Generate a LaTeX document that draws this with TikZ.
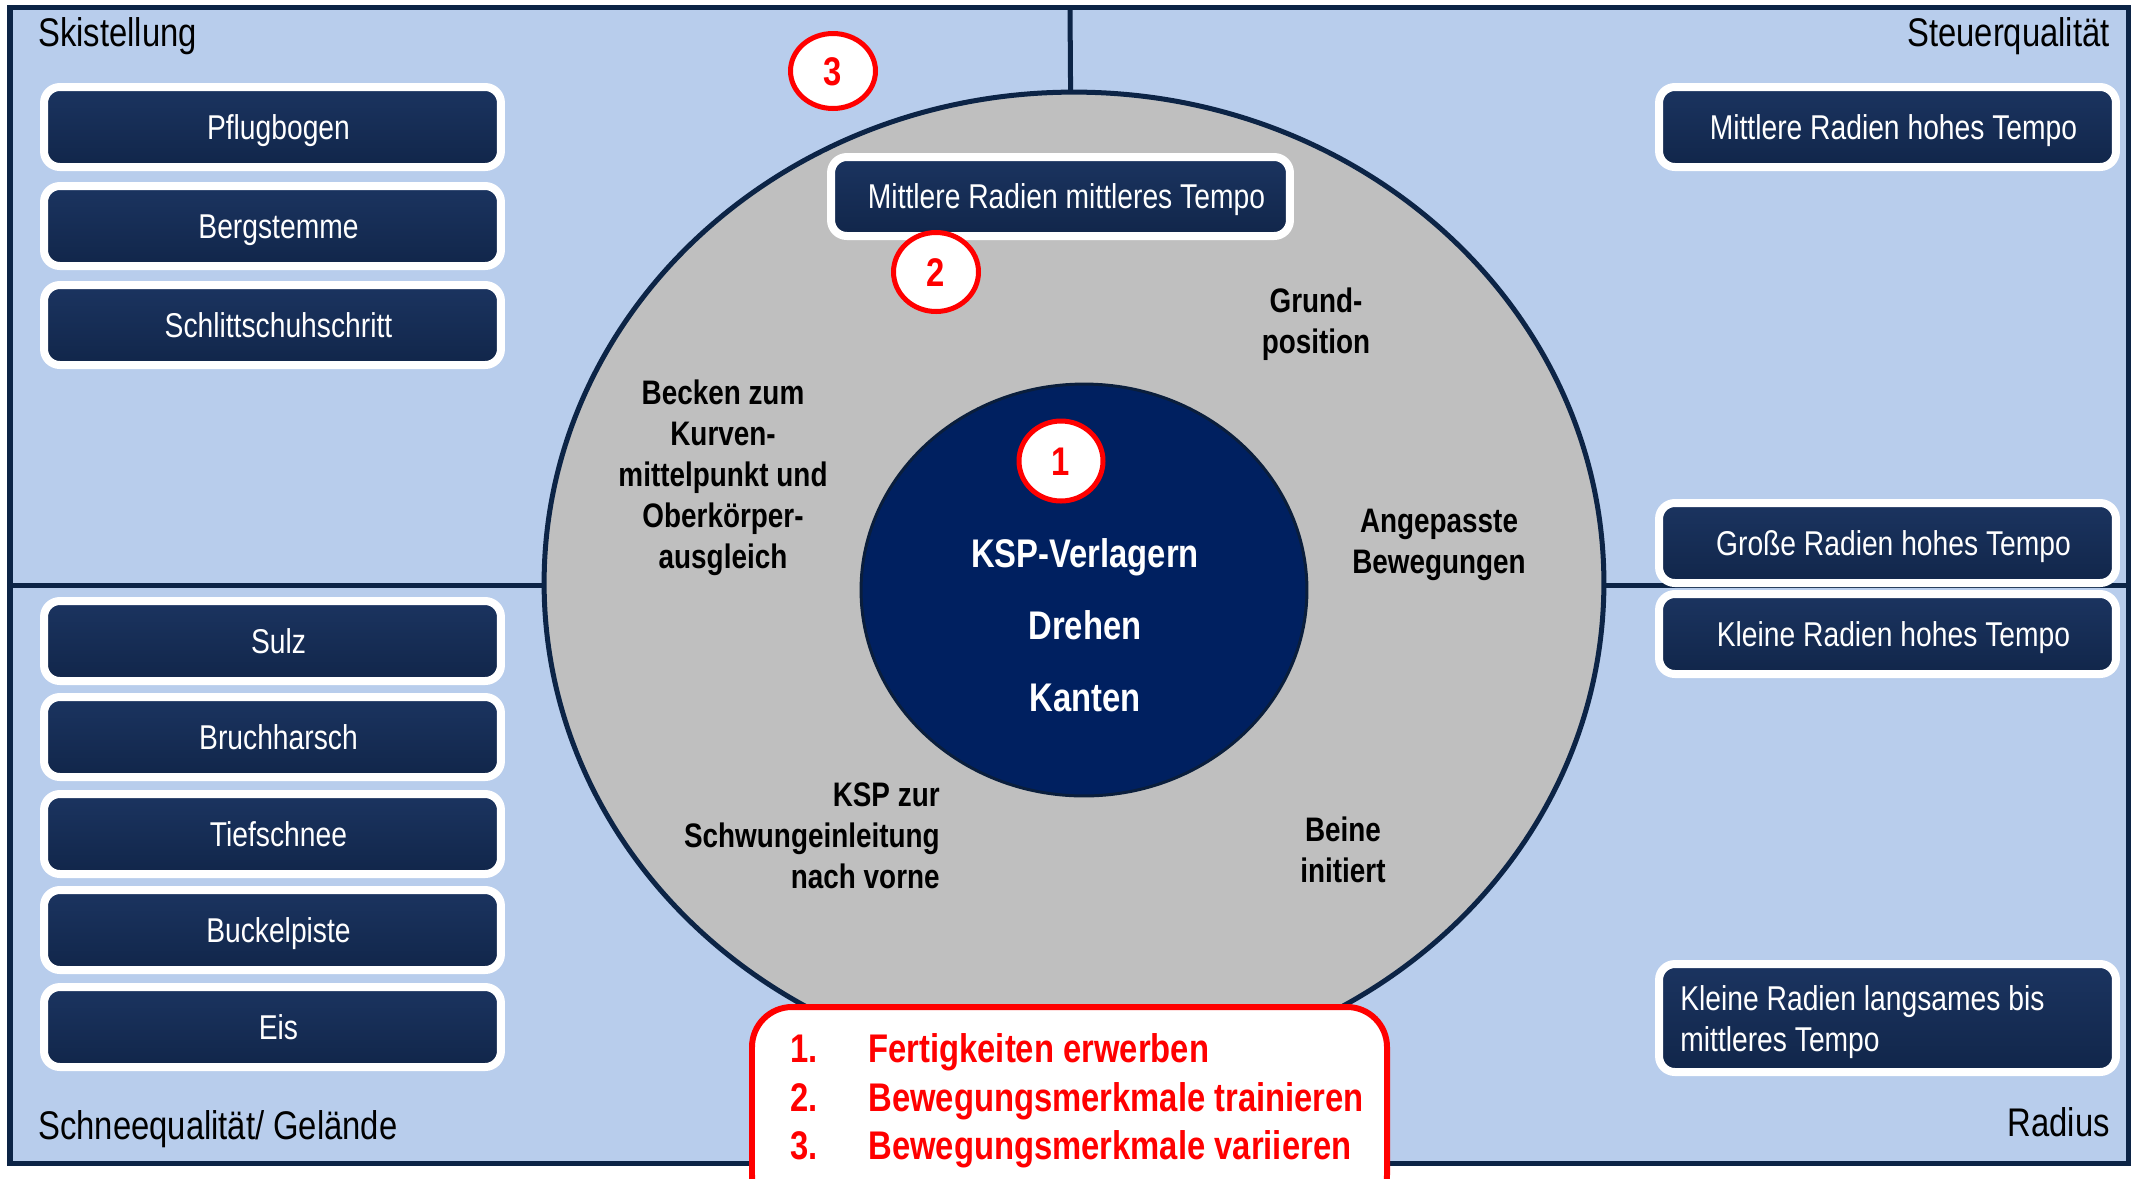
\documentclass[tikz,border=0pt]{standalone}
\usepackage{fontspec}
\setmainfont{Liberation Sans}
\newfontfamily\nar{Liberation Sans}[FakeStretch=0.82]
\usetikzlibrary{shapes.geometric}
\definecolor{bgblue}{RGB}{184,205,236}
\definecolor{navy}{RGB}{12,36,70}
\definecolor{coreline}{RGB}{10,30,60}
\definecolor{ringgray}{RGB}{191,191,191}
\definecolor{corenavy}{RGB}{0,32,96}
\definecolor{boxtop}{RGB}{27,52,96}
\definecolor{boxbot}{RGB}{17,38,74}
\definecolor{redc}{RGB}{255,0,0}
\tikzset{
  boxbase/.style={rectangle, rounded corners=9pt, draw=white, line width=4.55pt,
    top color=boxtop, bottom color=boxbot, minimum width=9.14cm, minimum height=1.6cm,
    inner sep=0pt, text=white, font=\nar\fontsize{19.6pt}{23.3pt}\selectfont},
  itembox/.style={boxbase, text height=14pt, text depth=0pt,
    execute at begin node={\hspace*{6.8pt}}},
  boxtext/.style={inner sep=0pt, align=left, text=white,
    font=\nar\fontsize{19.6pt}{23.3pt}\selectfont},
  ringlabel/.style={inner sep=0pt, align=center, text=black,
    font=\nar\bfseries\fontsize{19.35pt}{23.3pt}\selectfont},
  coretext/.style={inner sep=0pt, align=center, text=white,
    font=\nar\bfseries\fontsize{22.76pt}{41pt}\selectfont},
  numcirc/.style={ellipse, draw=redc, line width=2.85pt, fill=white, inner sep=0pt,
    text=redc, font=\nar\bfseries\fontsize{22.76pt}{22.76pt}\selectfont,
    text height=16.3pt, text depth=0pt},
  cornerlbl/.style={inner sep=0pt, text=black, font=\nar\fontsize{22.76pt}{27pt}\selectfont},
  redlist/.style={inner sep=0pt, align=left, text=redc,
    font=\nar\bfseries\fontsize{22.76pt}{27.6pt}\selectfont},
  divider/.style={draw=navy, line width=2.85pt}
}
\begin{document}
\begin{tikzpicture}[x=0.02cm,y=-0.02cm]
\useasboundingbox (0,0) rectangle (2143,1178);
\clip (0,0) rectangle (2143,1178);
\fill[white] (0,0) rectangle (2143,1178);
% frame
\draw[navy, line width=2.85pt, fill=bgblue] (10,7) rectangle (2128,1163);
% dividers
\coordinate (vtop) at (1070,7);
\coordinate (ringc) at (1074,583);
\coordinate (hl) at (10,585);
\coordinate (hr) at (2128,585);
\draw[divider] (vtop) -- (ringc);
\draw[divider] (hl) -- (hr);
% ring and core
\node[ellipse, fill=ringgray, draw=navy, line width=2.85pt, inner sep=0pt,
      minimum width=21.2cm, minimum height=19.64cm] (ring) at (ringc) {};
\node[ellipse, fill=corenavy, draw=coreline, line width=1.7pt, inner sep=0pt,
      minimum width=8.92cm, minimum height=8.24cm] (core) at (1084,590) {};
% left boxes
\node[itembox] (pflug) at (272.5,127) {Pflugbogen};
\node[itembox] (berg) at (272.5,226) {Bergstemme};
\node[itembox] (schl) at (272.5,325) {Schlittschuhschritt};
\node[itembox] (sulz) at (272.5,641) {Sulz};
\node[itembox] (bruch) at (272.5,737) {Bruchharsch};
\node[itembox] (tief) at (272.5,834) {Tiefschnee};
\node[itembox] (buckel) at (272.5,930) {Buckelpiste};
\node[itembox] (eis) at (272.5,1027) {Eis};
% right boxes
\node[itembox] (mrht) at (1887.5,127) {Mittlere Radien hohes Tempo};
\node[itembox] (grht) at (1887.5,543) {Gro\ss e Radien hohes Tempo};
\node[itembox] (krht) at (1887.5,634) {Kleine Radien hohes Tempo};
\node[boxbase, minimum height=2.16cm] (krlt) at (1887.5,1018) {};
\node[boxtext, anchor=west] (krlttxt) at (1680,1022)
  {Kleine Radien langsames bis\\mittleres Tempo};
% centre box
\node[itembox, minimum width=9.18cm, minimum height=1.58cm] (mrmt) at (1060.5,196.5)
  {Mittlere Radien mittleres Tempo};
% ring labels
\node[ringlabel] (grund) at (1316,324) {Grund-\\position};
\node[ringlabel] (becken) at (723,478) {Becken zum\\Kurven-\\mittelpunkt und\\Oberkörper-\\ausgleich};
\node[ringlabel] (angep) at (1439,545) {Angepasste\\Bewegungen};
\node[ringlabel, align=right, anchor=east] (kspzur) at (940,836) {KSP zur\\Schwungeinleitung\\nach vorne};
\node[ringlabel] (beine) at (1343,850) {Beine\\initiert};
% core text
\node[coretext] (coretxt) at (1085,625) {KSP-Verlagern\\Drehen\\Kanten};
% number circles
\node[numcirc, minimum width=1.7cm, minimum height=1.5cm] (n3) at (833,71) {3};
\node[numcirc, minimum width=1.7cm, minimum height=1.58cm] (n2) at (936,272) {2};
\node[numcirc, minimum width=1.68cm, minimum height=1.6cm] (n1) at (1061,461) {1};
% red legend box
\draw[redc, line width=3.4pt, fill=white, rounded corners=0.8cm] (752,1007) rectangle (1387,1215);
\node[redlist, anchor=west] (goals) at (790,1101)
  {\makebox[44.4pt][l]{1.}Fertigkeiten erwerben\\
   \makebox[44.4pt][l]{2.}Bewegungsmerkmale trainieren\\
   \makebox[44.4pt][l]{3.}Bewegungsmerkmale variieren};
% corner labels
\node[cornerlbl, anchor=base west] (ski) at (38,46) {Skistellung};
\node[cornerlbl, anchor=base east] (steuer) at (2110,46) {Steuerqualität};
\node[cornerlbl, anchor=base west] (schnee) at (38,1139) {Schneequalität/ Gelände};
\node[cornerlbl, anchor=base east] (radius) at (2110,1136) {Radius};
\end{tikzpicture}
\end{document}
